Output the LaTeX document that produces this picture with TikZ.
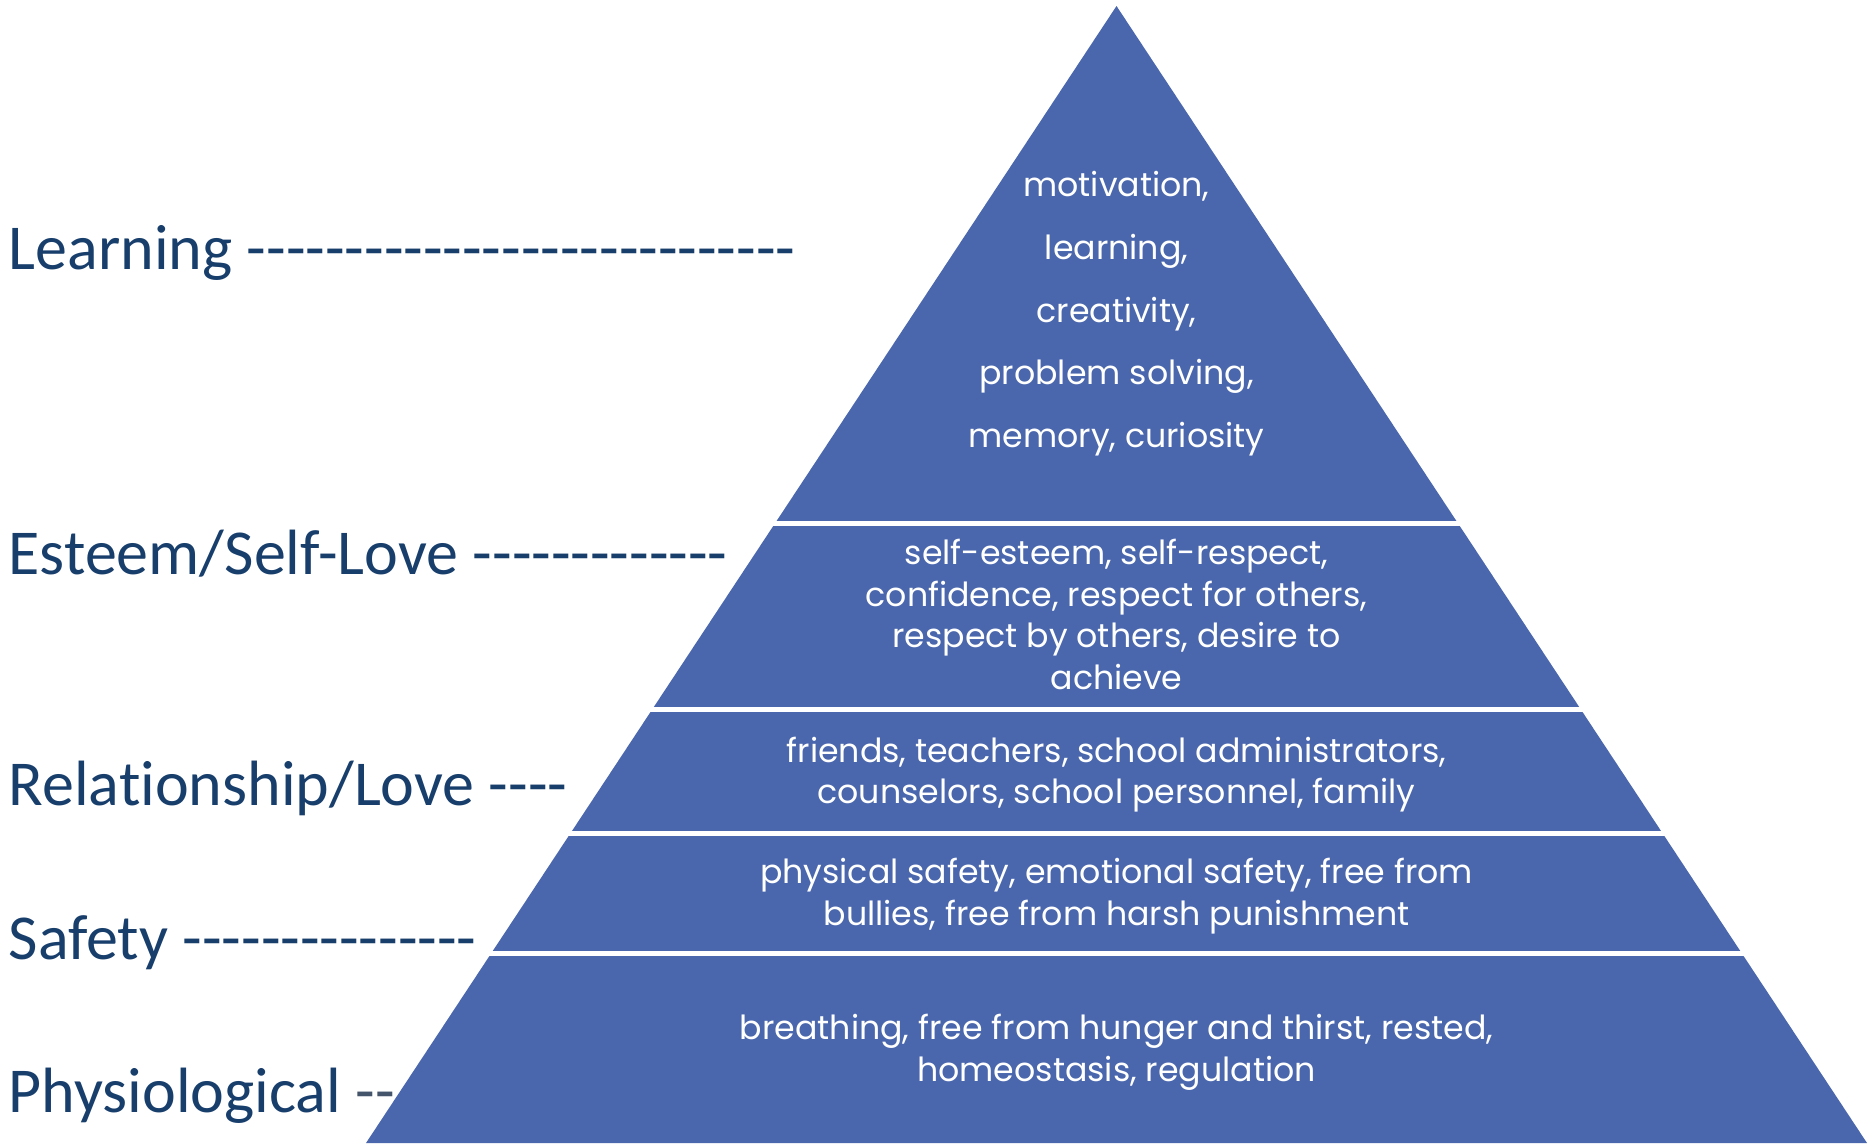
\documentclass[tikz,border=0pt]{standalone}
\usepackage{fontspec}
\setmainfont{Carlito}[Ligatures={TeXOff,CommonOff}]
\newfontfamily\pyrfont{Poppins}

\definecolor{pyrblue}{RGB}{74,103,173}
\definecolor{lblblue}{RGB}{24,62,108}
\definecolor{dashgray}{RGB}{68,84,106}

\tikzset{every picture/.style={line width=0.75pt}}
\tikzset{
  level/.style={anchor=base west, inner sep=0pt, text=lblblue, font=\fontsize{32}{38}\selectfont},
  need/.style={anchor=base, inner sep=0pt, text=white, font=\pyrfont\fontsize{16.6}{20}\selectfont},
  band/.style={fill=pyrblue, draw=none}
}

\begin{document}
\begin{tikzpicture}[x=0.5pt,y=0.5pt,yscale=-1,xscale=1]
\useasboundingbox (0,0) rectangle (1868,1147);

%Shape: Pyramid, cut into five bands
\begin{scope}
\clip (1116.5,6) -- (1867,1143) -- (366,1143) -- cycle ;
\foreach \ytop/\ybot in {0/520.5, 525.5/706.5, 711.5/830.5, 835.5/950.5, 955.5/1150}
  \fill [band] (300,\ytop) rectangle (1900,\ybot) ;
\end{scope}

% Text Node
\node [level] (learn) at (8,269) {Learning ----------------------------};
% Text Node
\node [level] (esteem) at (8,574) {Esteem/Self-Love -------------};
% Text Node
\node [level] (relation) at (8,805) {Relationship/Love ----};
% Text Node
\node [level] (safety) at (8,959) {Safety ---------------};
% Text Node
\node [level] (physio) at (8,1112) {Physiological {\color{dashgray}--}};

% Text Node
\node [need] (l1) at (1116.5,196) {motivation,};
\node [need] (l2) at (1116.5,259) {learning,};
\node [need] (l3) at (1116.5,322) {creativity,};
\node [need] (l4) at (1116.5,384) {problem solving,};
\node [need] (l5) at (1116.5,447) {memory, curiosity};
% Text Node
\node [need] (e1) at (1116.5,564.5) {self-esteem, self-respect,};
\node [need] (e2) at (1116.5,606) {confidence, respect for others,};
\node [need] (e3) at (1116.5,647.5) {respect by others, desire to};
\node [need] (e4) at (1116.5,689) {achieve};
% Text Node
\node [need] (r1) at (1116.5,762) {friends, teachers, school administrators,};
\node [need] (r2) at (1116.5,803.5) {counselors, school personnel, family};
% Text Node
\node [need] (s1) at (1116.5,883.5) {physical safety, emotional safety, free from};
\node [need] (s2) at (1116.5,925.5) {bullies, free from harsh punishment};
% Text Node
\node [need] (p1) at (1116.5,1039.5) {breathing, free from hunger and thirst, rested,};
\node [need] (p2) at (1116.5,1081.5) {homeostasis, regulation};

\end{tikzpicture}
\end{document}
